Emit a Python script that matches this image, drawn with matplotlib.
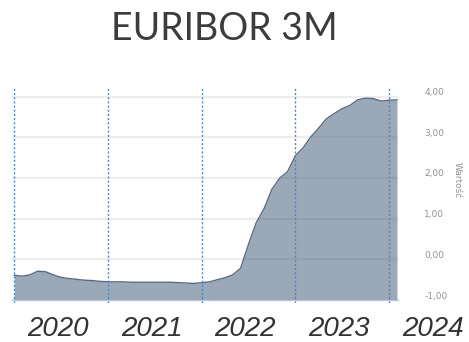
import matplotlib.pyplot as plt
import matplotlib.dates as mdates
import matplotlib.transforms as mtransforms
import pandas as pd

# monthly EURIBOR 3M, Jan 2020 .. Feb 2024
months = pd.date_range('2020-01-01', '2024-02-01', freq='MS')
rates = [
    -0.39, -0.41, -0.38, -0.29, -0.30, -0.38, -0.44, -0.47, -0.49, -0.51, -0.52, -0.54,
    -0.55, -0.55, -0.55, -0.56, -0.56, -0.56, -0.56, -0.56, -0.56, -0.57, -0.58, -0.59,
    -0.57, -0.55, -0.50, -0.45, -0.38, -0.22, 0.35, 0.90, 1.25, 1.72, 2.00, 2.15,
    2.55, 2.75, 3.00, 3.22, 3.45, 3.58, 3.70, 3.78, 3.92, 3.96, 3.95, 3.89,
    3.91, 3.92,
]
years = [2020, 2021, 2022, 2023, 2024]
yticks = [-1, 0, 1, 2, 3, 4]
title = 'EURIBOR 3M'
ylabel = 'Wartość'

fig = plt.figure(figsize=(4.69, 3.42), dpi=100)
ax = fig.add_axes([12 / 469, 39 / 342, 386 / 469, 215 / 342])

ax.fill_between(months, rates, -1, color='#2f4a6b', alpha=0.48, lw=0, zorder=2)
ax.plot(months, rates, color='#5a6a80', lw=1.0, zorder=3)

# year separators
for y in years:
    ax.axvline(pd.Timestamp(f'{y}-01-01'), color='#4f86c6', lw=1.0,
               ls=(0, (1.5, 1.5)), zorder=4)

ax.set_ylim(-1.07, 4.21)
ax.set_xlim(pd.Timestamp('2019-12-23'), pd.Timestamp('2024-02-05'))

ax.set_yticks(yticks)
ax.set_yticklabels([f'{v:.2f}'.replace('.', ',') for v in yticks])
ax.yaxis.tick_right()
ax.tick_params(axis='y', length=0, pad=19, labelsize=6.5, labelcolor='#929292')
off = mtransforms.ScaledTranslation(0, 5 / 100, fig.dpi_scale_trans)
for lbl in ax.get_yticklabels():
    lbl.set_transform(lbl.get_transform() + off)
ax.grid(axis='y', color='#ededed', lw=1.6, zorder=1)

ax.set_ylabel(ylabel, rotation=270, fontsize=6.5, color='#929292')
ax.yaxis.set_label_position('right')
ax.yaxis.set_label_coords(1.165, 0.57)

for s in ['top', 'left', 'right']:
    ax.spines[s].set_visible(False)
ax.spines['bottom'].set_position(('data', -1))
ax.spines['bottom'].set_color('#b8c8dc')
ax.spines['bottom'].set_linewidth(1.0)
ax.set_xticks([pd.Timestamp(f'{y}-01-01') for y in years])
ax.xaxis.set_major_formatter(mdates.DateFormatter(''))
ax.tick_params(axis='x', direction='in', length=3, color='#b8c8dc')

# year labels centred in each year
trans = mtransforms.blended_transform_factory(ax.transData, fig.transFigure)
for y in years:
    ax.text(pd.Timestamp(f'{y}-06-20'), 1 - 329 / 342, str(y), transform=trans,
            ha='center', va='center', fontsize=20, style='italic',
            family='Liberation Sans', color='#333333', clip_on=False)

fig.text(224 / 469, 1 - 29 / 342, title, ha='center', va='center',
         fontsize=27, family='Lato', color='#3c3c3c')

fig.savefig('out.png', dpi=100)
